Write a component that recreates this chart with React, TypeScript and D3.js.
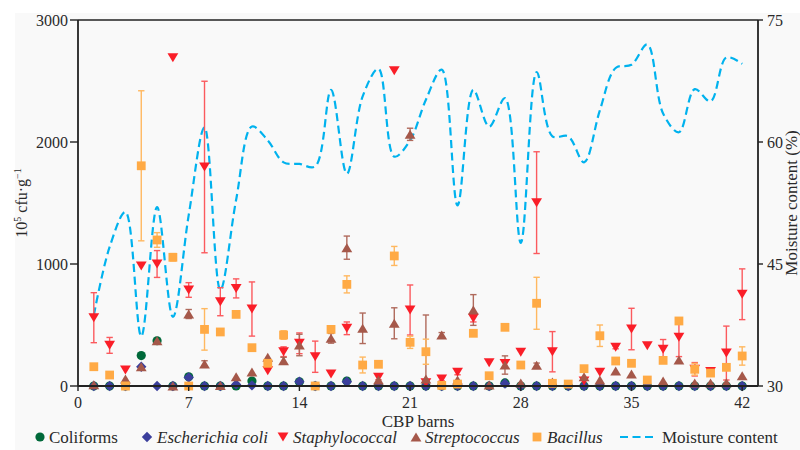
import React from "react";
import * as d3 from "d3";

// Barn index 1..42
const barns: number[] = d3.range(1, 43);

// Bacterial counts (10^5 cfu/g), null = not plotted; paired error arrays (0 = no bar)
const coliforms: (number | null)[] = [
  0, 0, 0, 249, 371, 0, 75, 0, 0, 0, 41, 0, 0, 35, 0, 0, 41, 0, 0, 0, 0,
  0, 0, 0, 0, 0, 25, 0, 0, 0, 0, 0, 0, 0, 0, 0, 0, 0, 0, 0, 0, 0,
];
const ecoli: (number | null)[] = [
  0, 0, 0, 158, 0, 0, 70, 0, 0, 13, 5, 0, 0, 35, 0, 0, 35, 0, 0, 0, 0,
  0, 0, 0, 0, 0, 20, 0, 0, 0, 0, 0, 0, 0, 0, 0, 0, 0, 0, 0, 0, 0,
];
const staph: (number | null)[] = [
  560, 333, 131, 983, 1000, 2690, 787, 1795, 691, 800, 631, 126, 281, 350, 240, 98, 473, null, 71, 2585, 623,
  27, 57, 112, 555, 191, 185, 276, 1503, 281, null, 41, 112, 317, 467, 330, 301, 399, 137, 118, 270, 752,
];
const staphErr: number[] = [
  205, 65, 0, 0, 110, 0, 60, 703, 115, 78, 222, 0, 40, 85, 128, 0, 52, 0, 20, 0, 205,
  0, 15, 20, 30, 0, 0, 0, 417, 165, 0, 0, 0, 12, 170, 0, 80, 158, 55, 22, 221, 208,
];
const strep: (number | null)[] = [
  10, null, 57, 158, 371, 0, 590, 180, 5, 76, 115, 236, 207, 336, null, 391, 1134, 473, 49, 514, 2063,
  57, 418, 49, 623, 8, 172, 25, 170, 33, null, 76, 49, 123, 98, null, 41, 213, 25, 25, 27, 84,
];
const strepErr: number[] = [
  0, 0, 0, 0, 0, 0, 37, 27, 0, 0, 0, 0, 28, 88, 0, 40, 95, 125, 0, 127, 50,
  525, 20, 0, 126, 0, 75, 0, 18, 0, 0, 0, 0, 0, 0, 0, 0, 0, 0, 0, 0, 0,
];
const bacillus: (number | null)[] = [
  158, 90, 0, 1805, 1197, 1055, 0, 464, 443, 587, 314, 186, 418, null, 0, 464, 833, 172, 178, 1066, 358,
  281, 5, 16, 432, 84, 481, 172, 678, 22, 16, 142, 412, 205, 186, 49, 210, 533, 137, 106, 153, 246,
];
const bacillusErr: number[] = [
  10, 0, 0, 615, 60, 30, 0, 170, 0, 0, 0, 0, 35, 0, 0, 0, 70, 65, 0, 78, 50,
  103, 0, 0, 0, 15, 0, 0, 213, 0, 0, 0, 88, 0, 0, 0, 0, 20, 48, 18, 0, 75,
];

// Moisture content (%) per barn
const moisture: number[] = [
  38.7, 47.1, 51.4, 36.1, 52.0, 38.5, 51.0, 61.8, 41.8, 52.9, 61.9, 60.2, 57.5, 57.3, 57.0, 66.4, 56.1, 65.6, 69.0, 58.2, 60.2,
  65.2, 68.9, 52.2, 66.4, 61.9, 65.4, 47.6, 68.6, 60.7, 60.7, 57.5, 63.9, 69.1, 69.5, 72.0, 63.5, 61.2, 66.5, 65.0, 70.4, 69.6,
];

const xTicks = [0, 7, 14, 21, 28, 35, 42];
const yTicks = [0, 1000, 2000, 3000];
const yRTicks = [30, 45, 60, 75];

const FONT = '"Liberation Serif", "Times New Roman", Times, serif';
const TEXT = "#2a2a2a";
const AXIS = "#222";

type Shape = "circle" | "diamond" | "down" | "up" | "square";

function shapePath(shape: Shape, cx: number, cy: number): string {
  switch (shape) {
    case "circle": {
      const r = 4.6;
      return `M${cx - r},${cy}a${r},${r} 0 1,0 ${2 * r},0a${r},${r} 0 1,0 ${-2 * r},0Z`;
    }
    case "diamond": {
      const r = 5.2;
      return `M${cx},${cy - r}L${cx + r},${cy}L${cx},${cy + r}L${cx - r},${cy}Z`;
    }
    case "down": {
      const w = 5.4, h = 9;
      return `M${cx - w},${cy - h / 2}L${cx + w},${cy - h / 2}L${cx},${cy + h / 2}Z`;
    }
    case "up": {
      const w = 5.4, h = 9;
      return `M${cx - w},${cy + h / 2}L${cx + w},${cy + h / 2}L${cx},${cy - h / 2}Z`;
    }
    case "square": {
      const s = 4.4;
      return `M${cx - s},${cy - s}h${2 * s}v${2 * s}h${-2 * s}Z`;
    }
  }
}

interface Series {
  name: string;
  italic: boolean;
  values: (number | null)[];
  errs: number[] | null;
  shape: Shape;
  color: string;
  errColor: string;
}

const seriesList: Series[] = [
  { name: "Coliforms", italic: false, values: coliforms, errs: null, shape: "circle", color: "#00693a", errColor: "#00693a" },
  { name: "Escherichia coli", italic: true, values: ecoli, errs: null, shape: "diamond", color: "#3b3f9c", errColor: "#3b3f9c" },
  { name: "Staphylococcal", italic: true, values: staph, errs: staphErr, shape: "down", color: "#fa1e28", errColor: "#fb5a5e" },
  { name: "Streptococcus", italic: true, values: strep, errs: strepErr, shape: "up", color: "#a5584a", errColor: "#b06a5c" },
  { name: "Bacillus", italic: true, values: bacillus, errs: bacillusErr, shape: "square", color: "#ffaa45", errColor: "#ffb860" },
];

const textStyle: React.CSSProperties = { fontFamily: FONT };

export default function App() {
  const W = 800, H = 450;
  const left = 78, right = 758, top = 20, bottom = 386;

  const x = d3.scaleLinear().domain([0, 43]).range([left, right]);
  const y = d3.scaleLinear().domain([0, 3000]).range([bottom, top]);
  const yR = d3.scaleLinear().domain([30, 75]).range([bottom, top]);

  const moistureLine = d3
    .line<number>()
    .x((_, i) => x(barns[i]))
    .y((d) => yR(d))
    .curve(d3.curveCatmullRom.alpha(0.5));

  const cap = 3.2;

  const legendItems = [
    { s: seriesList[0], mx: 40, tx: 49 },
    { s: seriesList[1], mx: 147, tx: 157 },
    { s: seriesList[2], mx: 283, tx: 293 },
    { s: seriesList[3], mx: 416, tx: 425 },
    { s: seriesList[4], mx: 537, tx: 547 },
  ];
  const legY = 437;

  return (
    <svg
      width={W}
      height={H}
      viewBox={`0 0 ${W} ${H}`}
      style={{ position: "absolute", left: 0, top: 0, background: "#fff", fontFamily: FONT }}
    >
      <rect x={15} y={13} width={W - 15} height={H - 13} fill="#f9f9f9" />

      {/* moisture curve (right axis) */}
      <path
        d={moistureLine(moisture) || ""}
        fill="none"
        stroke="#00b2ee"
        strokeWidth={2.2}
        strokeDasharray="8,4.5"
      />

      {/* error bars */}
      {seriesList.map((s) =>
        s.errs ? (
          <g key={s.name + "-err"} stroke={s.errColor} strokeWidth={1.4}>
            {s.values.map((v, i) => {
              const e = s.errs![i];
              if (v == null || !e) return null;
              const cx = x(barns[i]);
              const y1 = y(Math.min(v + e, 3000));
              const y0 = Math.min(y(Math.max(v - e, 0)), bottom);
              return (
                <g key={i}>
                  <line x1={cx} x2={cx} y1={y1} y2={y0} />
                  <line x1={cx - cap} x2={cx + cap} y1={y1} y2={y1} />
                  {v - e > 0 && <line x1={cx - cap} x2={cx + cap} y1={y0} y2={y0} />}
                </g>
              );
            })}
          </g>
        ) : null
      )}

      {/* markers */}
      {seriesList.map((s) => (
        <g key={s.name} fill={s.color}>
          {s.values.map((v, i) =>
            v == null ? null : <path key={i} d={shapePath(s.shape, x(barns[i]), y(v))} />
          )}
        </g>
      ))}

      {/* frame */}
      <line x1={left} x2={right} y1={top} y2={top} stroke={AXIS} strokeWidth={1.6} />
      <line x1={left} x2={left} y1={top} y2={bottom} stroke={AXIS} strokeWidth={1.8} />
      <line x1={right} x2={right} y1={top} y2={bottom} stroke={AXIS} strokeWidth={1.8} />
      <line x1={left} x2={right} y1={bottom} y2={bottom} stroke={AXIS} strokeWidth={1.8} />

      {/* left axis */}
      {yTicks.map((t) => (
        <g key={"yl" + t}>
          <line x1={left - 8} x2={left} y1={y(t)} y2={y(t)} stroke={AXIS} strokeWidth={1.4} />
          <text style={textStyle} x={left - 10} y={y(t)} dy="0.35em" textAnchor="end" fontSize={16} fill={TEXT}>
            {t}
          </text>
        </g>
      ))}

      {/* right axis */}
      {yRTicks.map((t) => (
        <g key={"yr" + t}>
          <line x1={right} x2={right + 5} y1={yR(t)} y2={yR(t)} stroke={AXIS} strokeWidth={1.4} />
          <text style={textStyle} x={right + 9} y={yR(t)} dy="0.35em" textAnchor="start" fontSize={16} fill={TEXT}>
            {t}
          </text>
        </g>
      ))}

      {/* bottom axis */}
      {xTicks.map((t) => (
        <g key={"x" + t}>
          <line x1={x(t)} x2={x(t)} y1={bottom} y2={bottom + 5} stroke={AXIS} strokeWidth={1.4} />
          <text style={textStyle} x={x(t)} y={408} textAnchor="middle" fontSize={16} fill={TEXT}>
            {t}
          </text>
        </g>
      ))}

      <text style={textStyle} x={(left + right) / 2} y={427} textAnchor="middle" fontSize={17} fill={TEXT}>
        CBP barns
      </text>

      <text
        style={textStyle}
        transform={`translate(27,${(top + bottom) / 2}) rotate(-90)`}
        textAnchor="middle"
        fontSize={16}
        fill={TEXT}
      >
        10<tspan fontSize={10} dy={-6}>5</tspan>
        <tspan dy={6}> cfu·g</tspan>
        <tspan fontSize={10} dy={-6}>−1</tspan>
      </text>

      <text
        style={textStyle}
        transform={`translate(797,${(top + bottom) / 2}) rotate(-90)`}
        textAnchor="middle"
        fontSize={17}
        fill={TEXT}
      >
        Moisture content (%)
      </text>

      {/* legend */}
      {legendItems.map(({ s, mx, tx }) => (
        <g key={"leg" + s.name}>
          <path d={shapePath(s.shape, mx, legY)} fill={s.color} />
          <text
            style={textStyle}
            x={tx}
            y={legY}
            dy="0.35em"
            fontSize={17}
            fontStyle={s.italic ? "italic" : "normal"}
            fill={TEXT}
          >
            {s.name}
          </text>
        </g>
      ))}
      <line x1={620} x2={656} y1={legY} y2={legY} stroke="#00b2ee" strokeWidth={2.2} strokeDasharray="8,4.5" />
      <text style={textStyle} x={662} y={legY} dy="0.35em" fontSize={17} fill={TEXT}>
        Moisture content
      </text>
    </svg>
  );
}
